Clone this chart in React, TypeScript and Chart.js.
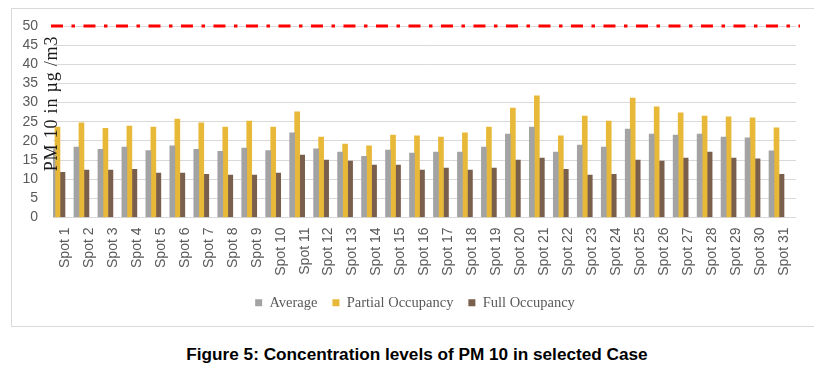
import React, { useEffect, useRef } from "react";
import { Chart, registerables } from "chart.js";

Chart.register(...registerables);

const CATEGORIES = [
  "Spot 1", "Spot 2", "Spot 3", "Spot 4", "Spot 5", "Spot 6", "Spot 7", "Spot 8",
  "Spot 9", "Spot 10", "Spot 11", "Spot 12", "Spot 13", "Spot 14", "Spot 15", "Spot 16",
  "Spot 17", "Spot 18", "Spot 19", "Spot 20", "Spot 21", "Spot 22", "Spot 23", "Spot 24",
  "Spot 25", "Spot 26", "Spot 27", "Spot 28", "Spot 29", "Spot 30", "Spot 31",
];

const AVERAGE = [
  17.8, 18.4, 17.8, 18.4, 17.5, 18.7, 17.8, 17.3, 18.1, 17.5, 22.1, 17.9, 17.1, 16.0, 17.6, 16.8,
  17.1, 17.1, 18.4, 21.8, 23.6, 17.1, 18.9, 18.4, 23.1, 21.8, 21.5, 21.8, 21.0, 20.8, 17.4,
];

const PARTIAL = [
  23.6, 24.7, 23.3, 23.9, 23.6, 25.7, 24.7, 23.6, 25.2, 23.6, 27.6, 21.0, 19.2, 18.7, 21.5, 21.3,
  21.0, 22.1, 23.6, 28.6, 31.8, 21.3, 26.5, 25.2, 31.2, 28.9, 27.3, 26.5, 26.3, 26.0, 23.4,
];

const FULL = [
  11.8, 12.4, 12.4, 12.6, 11.6, 11.6, 11.3, 11.1, 11.1, 11.6, 16.3, 15.0, 14.7, 13.7, 13.7, 12.4,
  12.9, 12.4, 12.9, 15.0, 15.5, 12.6, 11.1, 11.3, 15.0, 14.7, 15.5, 17.1, 15.5, 15.3, 11.3,
];

const SERIES_NAMES = ["Average", "Partial Occupancy", "Full Occupancy"];
const LIMIT = 50;
const LIMIT_SPAN = [0, 1];
const Y_MIN = 0;
const Y_MAX = 50;
const Y_STEP = 5;
const Y_TITLE = "PM 10 in µg /m3";
const CAPTION = "Figure 5: Concentration levels of PM 10 in selected Case";

const SANS = "'Liberation Sans', Arial, sans-serif";
const SERIF = "'Liberation Serif', 'Times New Roman', serif";
const TEXT_GRAY = "#595959";

const yTitlePlugin = {
  id: "yTitleInside",
  afterDraw(chart: any) {
    const { ctx, chartArea } = chart;
    ctx.save();
    ctx.translate(chartArea.left + 3.7, chartArea.top + 77.5);
    ctx.rotate(-Math.PI / 2);
    ctx.font = `18px ${SERIF}`;
    try {
      (ctx as any).letterSpacing = "0.8px";
    } catch (e) {}
    ctx.fillStyle = "#1a1a1a";
    ctx.textAlign = "center";
    ctx.textBaseline = "alphabetic";
    ctx.fillText(Y_TITLE, 0, 0);
    ctx.restore();
  },
};

const legendShiftPlugin = {
  id: "legendShift",
  afterLayout(chart: any) {
    const lg = chart.legend;
    if (lg) {
      lg.left -= 9.5;
      lg.right -= 9.5;
    }
  },
};

export default function App() {
  const canvasRef = useRef<HTMLCanvasElement | null>(null);

  useEffect(() => {
    if (!canvasRef.current) return;
    const chart = new Chart(canvasRef.current, {
      type: "bar",
      data: {
        labels: CATEGORIES,
        datasets: [
          { label: SERIES_NAMES[0], data: AVERAGE, backgroundColor: "#a3a3a3", borderWidth: 0 },
          { label: SERIES_NAMES[1], data: PARTIAL, backgroundColor: "#e8b838", borderWidth: 0 },
          { label: SERIES_NAMES[2], data: FULL, backgroundColor: "#7a5f4d", borderWidth: 0 },
          {
            type: "line",
            label: "Limit",
            data: LIMIT_SPAN.map((x) => ({ x, y: LIMIT })),
            xAxisID: "xl",
            borderColor: "#ff0000",
            borderWidth: 3,
            borderDash: [12, 8.5, 3.5, 8.5],
            pointRadius: 0,
            fill: false,
            clip: false,
          } as any,
        ],
      },
      options: {
        animation: false,
        responsive: false,
        devicePixelRatio: 1,
        events: [],
        barThickness: 5,
        layout: { padding: { top: 17, left: 0, right: 19, bottom: 6 } },
        plugins: {
          tooltip: { enabled: false },
          title: { display: false },
          legend: {
            display: true,
            position: "bottom",
            fullSize: false,
            labels: {
              boxWidth: 7,
              boxHeight: 7,
              padding: 15,
              color: TEXT_GRAY,
              font: { family: SERIF, size: 14.5 },
              filter: (item: any) => item.datasetIndex < 3,
            },
          },
        },
        scales: {
          x: {
            type: "category",
            offset: true,
            grid: { display: false, drawTicks: false },
            border: { display: false },
            ticks: {
              autoSkip: false,
              maxRotation: 90,
              minRotation: 90,
              padding: 10,
              color: TEXT_GRAY,
              font: { family: SANS, size: 14 },
            },
            afterFit: (s: any) => {
              s.height = 63;
            },
          },
          xl: {
            type: "linear",
            display: false,
            offset: false,
            grid: { offset: false },
            min: 0.0027,
            max: 0.9947,
          },
          y: {
            min: Y_MIN,
            max: Y_MAX,
            ticks: {
              stepSize: Y_STEP,
              autoSkip: false,
              padding: 0,
              color: TEXT_GRAY,
              font: { family: SANS, size: 14 },
            },
            grid: {
              color: "#d9d9d9",
              lineWidth: 1,
              drawTicks: true,
              tickLength: 15,
              tickColor: "rgba(0,0,0,0)",
            },
            border: { display: false },
            afterFit: (s: any) => {
              s.width = 41;
            },
          },
        } as any,
      } as any,
      plugins: [yTitlePlugin, legendShiftPlugin],
    });
    return () => chart.destroy();
  }, []);

  return (
    <div style={{ position: "relative", width: 806, height: 358 }}>
      <div
        style={{
          position: "absolute",
          left: 3,
          top: 0,
          width: 803,
          height: 317,
          border: "1px solid #d9d9d9",
          background: "#ffffff",
        }}
      >
        <canvas ref={canvasRef} width={803} height={317} style={{ display: "block" }} />
      </div>
      <div
        style={{
          position: "absolute",
          left: 409,
          top: 336,
          transform: "translateX(-50%)",
          whiteSpace: "nowrap",
          fontFamily: SANS,
          fontWeight: "bold",
          fontSize: "17.2px",
          lineHeight: "20px",
          color: "#000000",
        }}
      >
        {CAPTION}
      </div>
    </div>
  );
}
